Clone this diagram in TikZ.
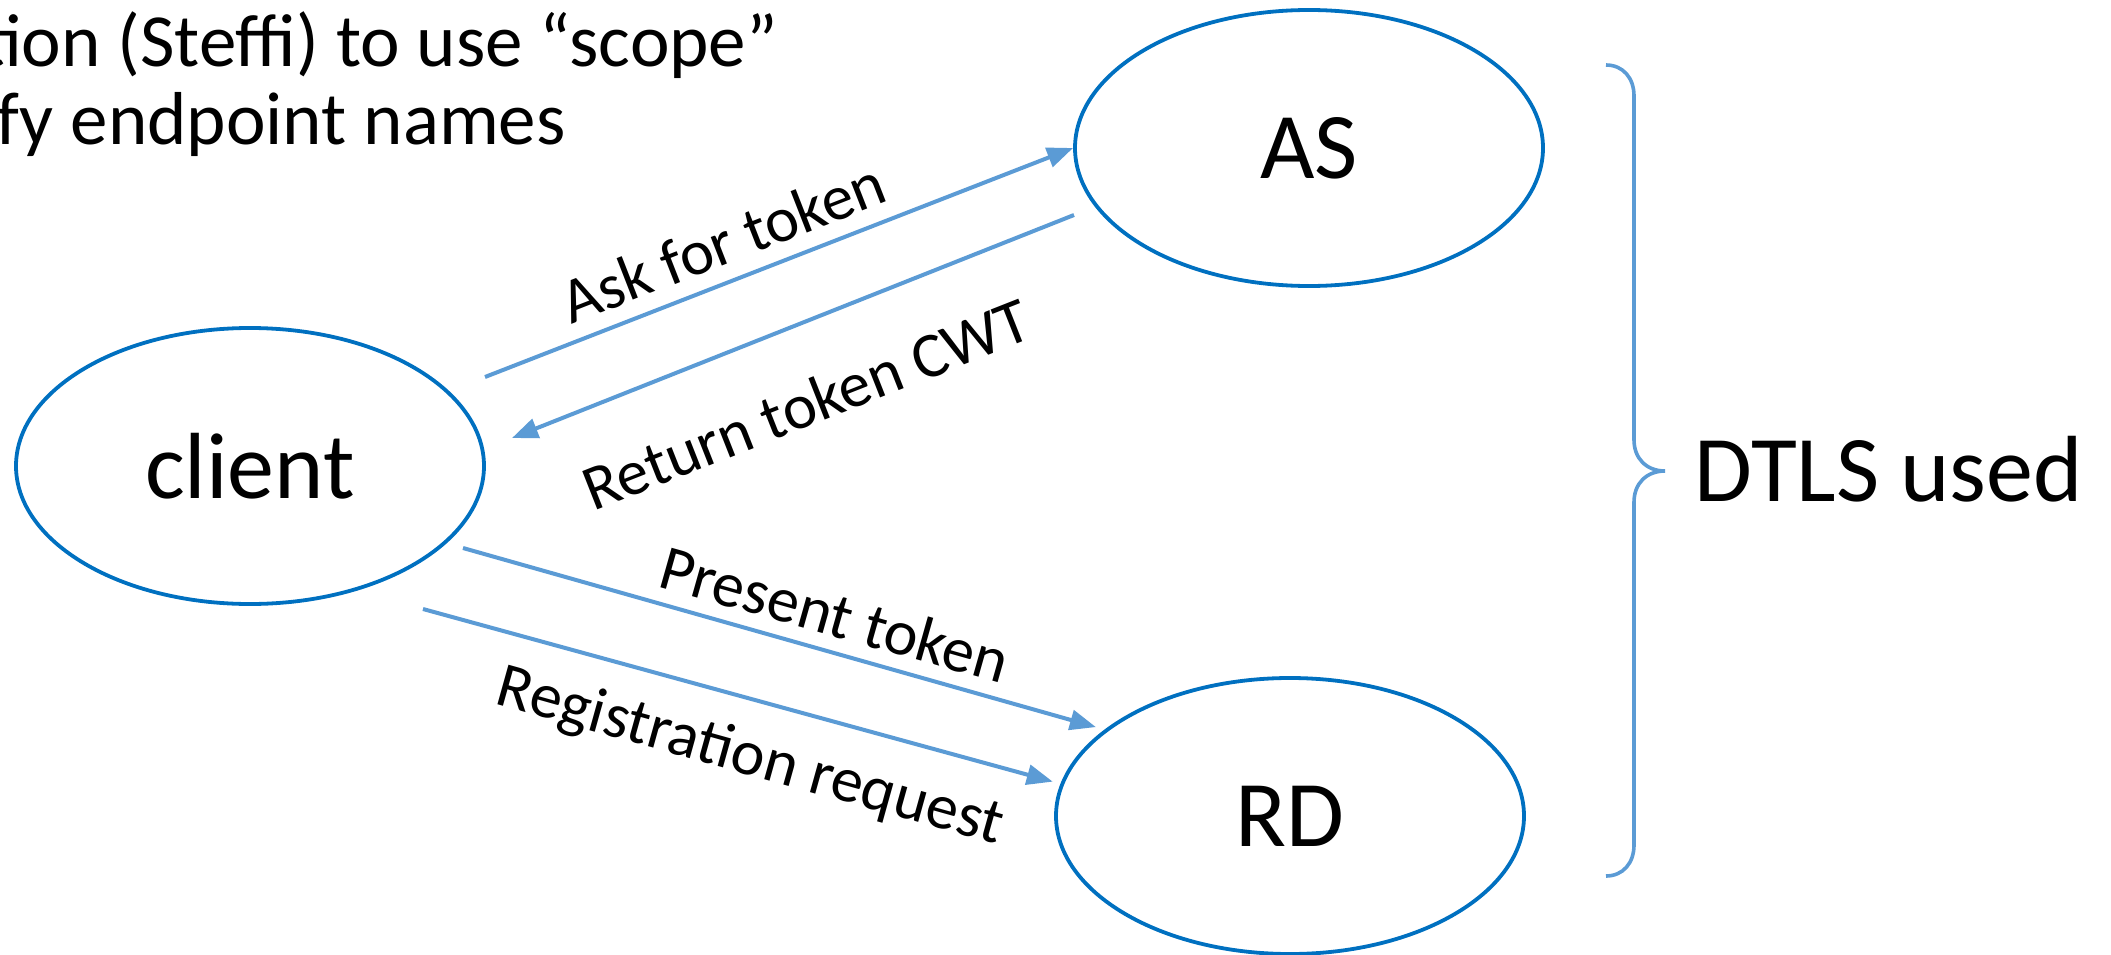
\documentclass[tikz,border=0pt]{standalone}
\usepackage{fontspec}
\setmainfont{Carlito}
\usetikzlibrary{shapes.geometric,arrows.meta}
\definecolor{ellblue}{RGB}{0,112,192}
\definecolor{arrblue}{RGB}{91,155,213}
\begin{document}
\begin{tikzpicture}[x=1pt,y=-1pt,
  party/.style={ellipse, draw=ellblue, line width=3.8pt, minimum width=468pt, minimum height=276pt, inner sep=0pt, font=\fontsize{94}{110}\selectfont},
  msg/.style={draw=arrblue, line width=4pt, -{Triangle[length=26pt,width=20pt]}},
  lbl/.style={font=\fontsize{64}{76}\selectfont, inner sep=0pt},
  note/.style={font=\fontsize{75}{88}\selectfont, inner sep=0pt},
  bracestyle/.style={draw=arrblue, line width=3.6pt}]
\useasboundingbox (0,0) rectangle (2111,955);
% notes
\node[note, anchor=base east] (note1) at (778,67) {tion (Steffi) to use “scope”};
\node[note, anchor=base east] (note2) at (566,145) {fy endpoint names};
% parties
\node[party] (client) at (250,466) {client};
\node[party] (AS) at (1309,148) {AS};
\node[party] (RD) at (1290,816) {RD};
% free ends
\coordinate (askstart) at (485,377);
\coordinate (retstart) at (1074,215);
\coordinate (retend) at (512,438);
\coordinate (presstart) at (463,548);
\coordinate (regstart) at (423,609);
% messages
\draw[msg] (askstart) -- (AS.west);
\draw[msg] (retstart) -- (retend);
\draw[msg, shorten >=9pt] (presstart) -- (RD.155);
\draw[msg, shorten >=8pt] (regstart) -- (RD.172);
% labels
\node[lbl, rotate=21.3] (asklbl) at (723,242) {Ask for token};
\node[lbl, rotate=21.5] (retlbl) at (806,404) {Return token CWT};
\node[lbl, rotate=-15.8] (preslbl) at (835,614) {Present token};
\node[lbl, rotate=-15.6] (reglbl) at (750,758) {Registration request};
% brace
\draw[bracestyle] (1606,65) .. controls (1623,65) and (1634,78) .. (1634,96)
  -- (1634,440) .. controls (1634,458) and (1646,471) .. (1665,471)
  .. controls (1646,471) and (1634,484) .. (1634,502)
  -- (1634,845) .. controls (1634,863) and (1623,876) .. (1606,876);
\node[anchor=west, inner sep=0pt, font=\fontsize{94}{110}\selectfont] (dtls) at (1694,469) {DTLS used};
\end{tikzpicture}
\end{document}
